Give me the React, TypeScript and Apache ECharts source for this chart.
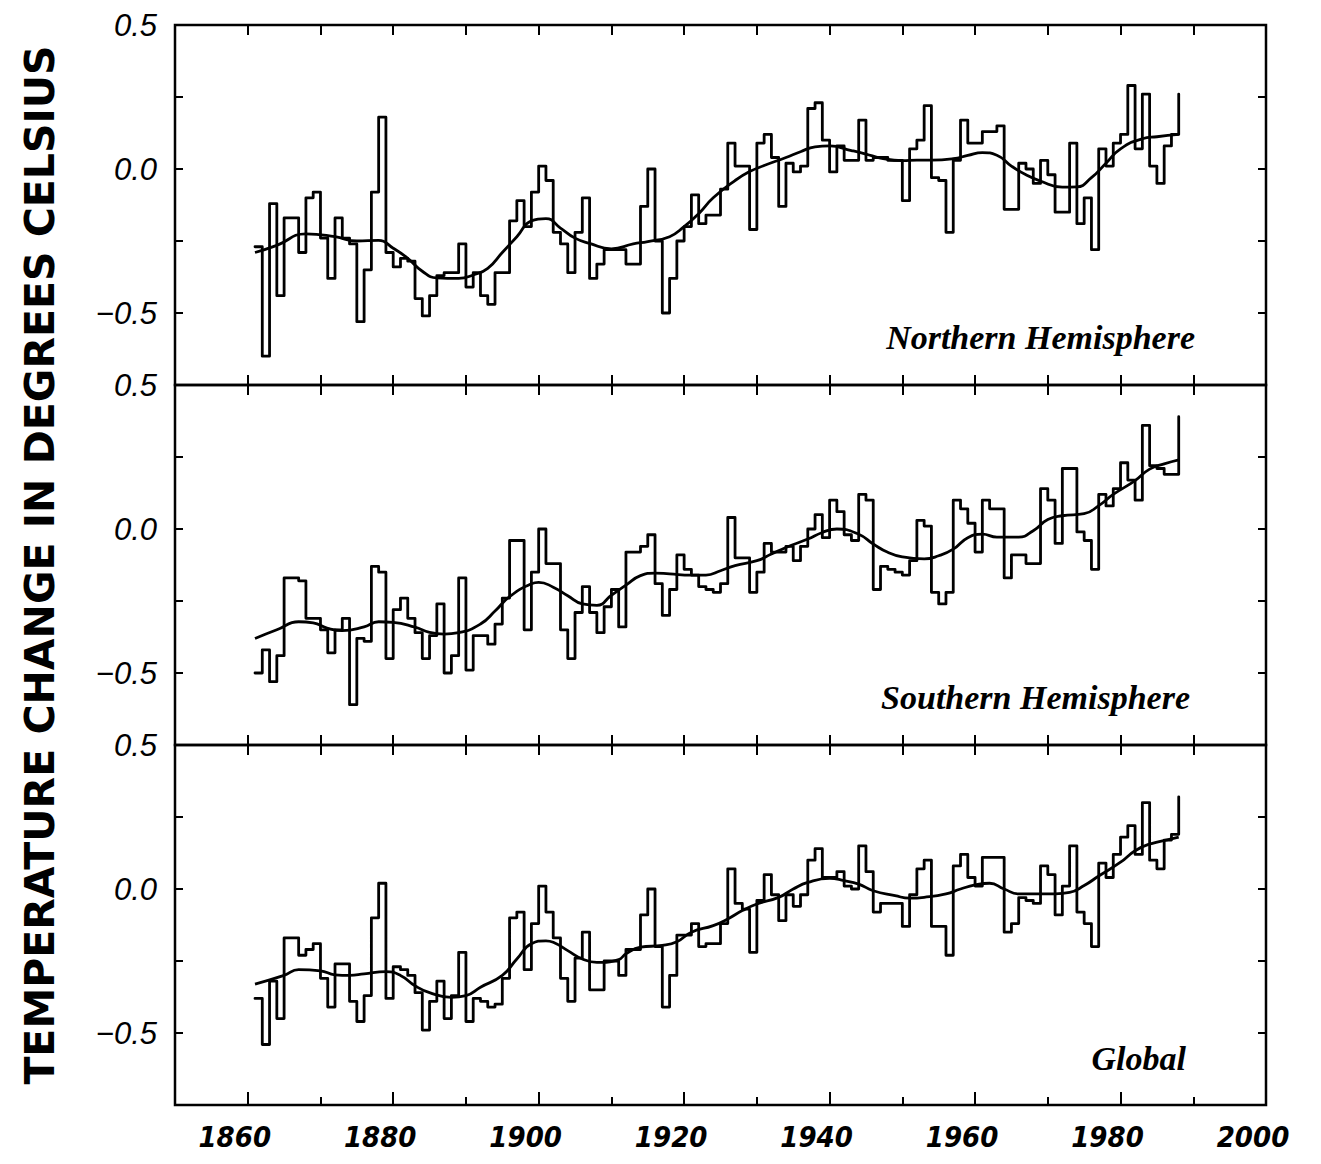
import React, { useEffect, useRef } from "react";
import * as echarts from "echarts";

// ---------- data ----------
const YEARS = Array.from({ length: 128 }, (_, i) => 1861 + i); // 1861 … 1988

const NORTH = [
  -0.27, -0.65, -0.12, -0.44, -0.17, -0.17, -0.29, -0.10, -0.08, -0.24,
  -0.38, -0.17, -0.24, -0.26, -0.53, -0.35, -0.08, 0.18, -0.29, -0.34,
  -0.31, -0.32, -0.45, -0.51, -0.44, -0.37, -0.36, -0.36, -0.26, -0.41,
  -0.36, -0.44, -0.47, -0.36, -0.36, -0.18, -0.11, -0.20, -0.08, 0.01,
  -0.04, -0.22, -0.26, -0.36, -0.22, -0.10, -0.38, -0.33, -0.28, -0.28,
  -0.28, -0.33, -0.33, -0.13, 0.00, -0.25, -0.50, -0.38, -0.25, -0.20,
  -0.09, -0.19, -0.16, -0.16, -0.07, 0.09, 0.01, 0.01, -0.21, 0.09,
  0.12, 0.04, -0.13, 0.02, -0.01, 0.01, 0.21, 0.23, 0.10, -0.01,
  0.08, 0.03, 0.03, 0.17, 0.03, 0.04, 0.04, 0.03, 0.03, -0.11,
  0.07, 0.10, 0.22, -0.03, -0.04, -0.22, 0.03, 0.17, 0.09, 0.09,
  0.13, 0.13, 0.15, -0.14, -0.14, 0.02, 0.00, -0.05, 0.03, -0.02,
  -0.15, -0.15, 0.09, -0.19, -0.10, -0.28, 0.07, 0.01, 0.09, 0.12,
  0.29, 0.07, 0.26, 0.01, -0.05, 0.08, 0.12, 0.26,
];

const SOUTH = [
  -0.50, -0.42, -0.53, -0.44, -0.17, -0.17, -0.18, -0.31, -0.31, -0.35,
  -0.43, -0.35, -0.31, -0.61, -0.38, -0.39, -0.13, -0.15, -0.45, -0.28,
  -0.24, -0.31, -0.36, -0.45, -0.37, -0.26, -0.50, -0.44, -0.17, -0.49,
  -0.37, -0.37, -0.40, -0.33, -0.24, -0.04, -0.04, -0.35, -0.15, 0.00,
  -0.12, -0.12, -0.35, -0.45, -0.29, -0.20, -0.29, -0.36, -0.27, -0.21,
  -0.34, -0.08, -0.08, -0.06, -0.02, -0.19, -0.30, -0.21, -0.09, -0.14,
  -0.16, -0.20, -0.21, -0.22, -0.19, 0.04, -0.10, -0.10, -0.22, -0.15,
  -0.05, -0.08, -0.08, -0.06, -0.11, -0.06, 0.00, 0.05, -0.03, 0.10,
  0.06, -0.02, -0.04, 0.12, 0.10, -0.21, -0.13, -0.14, -0.15, -0.16,
  -0.11, 0.03, 0.01, -0.22, -0.26, -0.22, 0.10, 0.07, 0.02, -0.08,
  0.10, 0.07, 0.07, -0.17, -0.09, -0.09, -0.12, -0.12, 0.14, 0.10,
  -0.05, 0.21, 0.21, -0.01, -0.04, -0.14, 0.12, 0.08, 0.14, 0.23,
  0.17, 0.10, 0.36, 0.22, 0.21, 0.19, 0.19, 0.39,
];

const GLOBAL = [
  -0.38, -0.54, -0.32, -0.45, -0.17, -0.17, -0.23, -0.21, -0.19, -0.31,
  -0.41, -0.26, -0.26, -0.39, -0.46, -0.37, -0.10, 0.02, -0.38, -0.27,
  -0.28, -0.30, -0.36, -0.49, -0.39, -0.32, -0.45, -0.37, -0.22, -0.46,
  -0.38, -0.39, -0.41, -0.40, -0.31, -0.10, -0.08, -0.28, -0.12, 0.01,
  -0.08, -0.17, -0.31, -0.39, -0.24, -0.15, -0.35, -0.35, -0.25, -0.25,
  -0.30, -0.21, -0.21, -0.09, 0.00, -0.20, -0.41, -0.30, -0.16, -0.16,
  -0.12, -0.20, -0.19, -0.19, -0.12, 0.07, -0.05, -0.07, -0.22, -0.04,
  0.05, -0.02, -0.11, -0.02, -0.06, -0.02, 0.10, 0.14, 0.04, 0.04,
  0.06, 0.01, 0.00, 0.15, 0.06, -0.08, -0.05, -0.05, -0.05, -0.13,
  -0.02, 0.07, 0.10, -0.13, -0.13, -0.23, 0.08, 0.12, 0.04, 0.01,
  0.11, 0.11, 0.11, -0.15, -0.12, -0.03, -0.04, -0.05, 0.08, 0.05,
  -0.09, 0.01, 0.15, -0.08, -0.12, -0.20, 0.09, 0.04, 0.12, 0.18,
  0.22, 0.12, 0.30, 0.10, 0.07, 0.17, 0.19, 0.32,
];

// smoothed curves (years and values)
const NORTH_SMOOTH_YEARS = [
  1861, 1864, 1868, 1872, 1875, 1878, 1880, 1882, 1884, 1886, 1889, 1891, 1893, 1895,
  1897, 1899, 1901, 1903, 1905, 1907, 1910, 1913, 1915, 1918, 1920, 1922, 1924, 1927,
  1929, 1931, 1934, 1936, 1938, 1940, 1943, 1945, 1947, 1950, 1952, 1954, 1957, 1959,
  1961, 1963, 1965, 1967, 1969, 1972, 1974, 1976, 1978, 1980, 1983, 1985, 1988,
];
const NORTH_SMOOTH = [
  -0.29, -0.265, -0.225, -0.235, -0.25, -0.248, -0.275, -0.31, -0.355, -0.378, -0.38, -0.368, -0.345, -0.29,
  -0.235, -0.18, -0.172, -0.205, -0.24, -0.258, -0.277, -0.26, -0.252, -0.235, -0.2, -0.155, -0.1, -0.04,
  -0.009, 0.012, 0.04, 0.06, 0.077, 0.08, 0.064, 0.052, 0.038, 0.029, 0.031, 0.031, 0.036, 0.047,
  0.057, 0.048, 0.01, -0.02, -0.042, -0.063, -0.062, -0.03, 0.02, 0.07, 0.105, 0.112, 0.12,
];

const SOUTH_SMOOTH_YEARS = [
  1861, 1864, 1867, 1869, 1871, 1873, 1876, 1878, 1880, 1883, 1885, 1887, 1889, 1892,
  1894, 1896, 1899, 1900, 1902, 1904, 1906, 1908, 1910, 1912, 1914, 1916, 1918, 1921,
  1923, 1925, 1927, 1930, 1932, 1934, 1937, 1939, 1941, 1944, 1946, 1948, 1950, 1953,
  1955, 1957, 1959, 1961, 1963, 1966, 1968, 1970, 1972, 1975, 1977, 1979, 1982, 1984,
  1986, 1988,
];
const SOUTH_SMOOTH = [
  -0.38, -0.35, -0.322, -0.326, -0.345, -0.353, -0.34, -0.322, -0.324, -0.341, -0.359, -0.365, -0.36, -0.33,
  -0.285, -0.235, -0.19, -0.185, -0.202, -0.232, -0.26, -0.265, -0.23, -0.195, -0.162, -0.153, -0.156, -0.16,
  -0.16, -0.145, -0.127, -0.11, -0.087, -0.064, -0.035, -0.012, 0.0, -0.018, -0.052, -0.081, -0.097, -0.104,
  -0.093, -0.07, -0.03, -0.018, -0.028, -0.028, -0.006, 0.033, 0.046, 0.053, 0.081, 0.12, 0.168, 0.208,
  0.226, 0.24,
];

const GLOBAL_SMOOTH_YEARS = [
  1861, 1865, 1867, 1870, 1872, 1874, 1876, 1879, 1881, 1883, 1885, 1888, 1890, 1892,
  1895, 1897, 1899, 1901, 1902, 1904, 1906, 1908, 1911, 1912, 1914, 1917, 1919, 1921,
  1924, 1926, 1928, 1930, 1933, 1935, 1937, 1940, 1942, 1944, 1946, 1949, 1951, 1953,
  1956, 1958, 1960, 1962, 1964, 1966, 1968, 1971, 1973, 1975, 1977, 1980, 1982, 1984,
  1987, 1988,
];
const GLOBAL_SMOOTH = [
  -0.33, -0.3, -0.28, -0.284, -0.298, -0.3, -0.295, -0.287, -0.3, -0.336, -0.36, -0.376, -0.37, -0.341,
  -0.3, -0.243, -0.19, -0.18, -0.185, -0.214, -0.243, -0.255, -0.245, -0.225, -0.202, -0.196, -0.183, -0.15,
  -0.127, -0.104, -0.075, -0.052, -0.029, 0.0, 0.023, 0.037, 0.029, 0.017, -0.006, -0.023, -0.032, -0.029,
  -0.017, 0.0, 0.014, 0.02, 0.0, -0.017, -0.017, -0.017, -0.012, 0.012, 0.045, 0.093, 0.133, 0.156,
  0.174, 0.18,
];

const X_LABELS = [1860, 1880, 1900, 1920, 1940, 1960, 1980, 2000];
const DECADE_TICKS = [1860, 1870, 1880, 1890, 1900, 1910, 1920, 1930, 1940, 1950, 1960, 1970, 1980, 1990];
const MAJOR_TICKS = [1860, 1880, 1900, 1920, 1940, 1960, 1980];
const Y_TICK_LABELS: Record<string, string> = { "0.5": "0.5", "0": "0.0", "-0.5": "\u22120.5" };
const PANEL_TITLES = ["Northern Hemisphere", "Southern Hemisphere", "Global"];
const Y_TITLE = "TEMPERATURE CHANGE IN DEGREES CELSIUS";

// ---------- layout ----------
const GRID_TOPS = [25, 385, 745];
const GRID_LEFT = 175;
const GRID_WIDTH = 1091;
const GRID_HEIGHT = 360;
const BLACK = "#000";

const pairs = (xs: number[], ys: number[]) => xs.map((x, i) => [x, ys[i]]);

function xAxisDef(gi: number, position: string, len: number, ticks: number[], labels: boolean) {
  return {
    type: "value",
    gridIndex: gi,
    position,
    min: 1850,
    max: 2000,
    interval: 10,
    axisLine: { show: false, onZero: false },
    splitLine: { show: false },
    axisTick: {
      show: true,
      inside: true,
      length: len,
      customValues: ticks,
      lineStyle: { color: BLACK, width: 2 },
    },
    axisLabel: labels
      ? {
          show: true,
          customValues: X_LABELS,
          formatter: (v: number) => (v % 20 === 0 && v >= 1860 ? String(v) : ""),
          color: BLACK,
          fontSize: 29,
          fontStyle: "italic",
          fontWeight: "bold",
          fontFamily: "'Liberation Sans Narrow', 'DejaVu Sans Condensed', 'Liberation Sans', sans-serif",
          margin: 17,
          padding: [0, 26, 0, 0],
        }
      : { show: false },
  };
}

function yAxisDef(gi: number, position: string, labels: boolean) {
  return {
    type: "value",
    gridIndex: gi,
    position,
    min: -0.75,
    max: 0.5,
    interval: 0.25,
    axisLine: { show: false, onZero: false },
    splitLine: { show: false },
    axisTick: { show: true, inside: true, length: 8, lineStyle: { color: BLACK, width: 2 } },
    axisLabel: labels
      ? {
          show: true,
          formatter: (v: number) => Y_TICK_LABELS[String(Math.round(v * 100) / 100)] ?? "",
          color: BLACK,
          fontSize: 31,
          fontStyle: "italic",
          fontFamily: "'Liberation Sans', Arial, sans-serif",
          margin: 18,
        }
      : { show: false },
  };
}

function buildOption() {
  const grid = GRID_TOPS.map((t) => ({
    left: GRID_LEFT,
    top: t,
    width: GRID_WIDTH,
    height: GRID_HEIGHT,
    show: true,
    borderColor: BLACK,
    borderWidth: 2.5,
    backgroundColor: "transparent",
    containLabel: false,
  }));

  const xAxis: any[] = [];
  const yAxis: any[] = [];
  GRID_TOPS.forEach((_, gi) => {
    const isLast = gi === GRID_TOPS.length - 1;
    xAxis.push(xAxisDef(gi, "bottom", isLast ? 8 : 10, DECADE_TICKS, isLast));
    xAxis.push(xAxisDef(gi, "top", 10, DECADE_TICKS, false));
    yAxis.push(yAxisDef(gi, "left", true));
    yAxis.push(yAxisDef(gi, "right", false));
  });
  // longer ticks every 20 years on the lowest axis
  xAxis.push(xAxisDef(2, "bottom", 13, MAJOR_TICKS, false));

  const annual = [NORTH, SOUTH, GLOBAL];
  const smoothYears = [NORTH_SMOOTH_YEARS, SOUTH_SMOOTH_YEARS, GLOBAL_SMOOTH_YEARS];
  const smoothVals = [NORTH_SMOOTH, SOUTH_SMOOTH, GLOBAL_SMOOTH];

  const series: any[] = [];
  annual.forEach((vals, gi) => {
    series.push({
      type: "line",
      xAxisIndex: gi * 2,
      yAxisIndex: gi * 2,
      data: pairs(YEARS, vals),
      step: "end",
      showSymbol: false,
      symbol: "none",
      lineStyle: { color: BLACK, width: 2.8, join: "round", cap: "round" },
      silent: true,
    });
    series.push({
      type: "line",
      xAxisIndex: gi * 2,
      yAxisIndex: gi * 2,
      data: pairs(smoothYears[gi], smoothVals[gi]),
      smooth: 0.5,
      showSymbol: false,
      symbol: "none",
      lineStyle: { color: BLACK, width: 2.8 },
      silent: true,
    });
  });

  const panelFont = "'Liberation Serif', 'DejaVu Serif', serif";
  const panelLabelPos = [
    { x: 1195, y: 337 },
    { x: 1190, y: 697 },
    { x: 1186, y: 1058 },
  ];

  const graphic: any[] = [
    {
      type: "text",
      x: 40,
      y: 565,
      rotation: Math.PI / 2,
      style: {
        text: Y_TITLE,
        fill: BLACK,
        fontSize: 41,
        fontWeight: "bold",
        fontFamily: "'DejaVu Sans', 'Liberation Sans', sans-serif",
        textAlign: "center",
        textVerticalAlign: "middle",
        verticalAlign: "middle",
      },
    },
    ...PANEL_TITLES.map((t, i) => ({
      type: "text",
      x: panelLabelPos[i].x,
      y: panelLabelPos[i].y,
      style: {
        text: t,
        fill: BLACK,
        fontSize: 34,
        fontWeight: "bold",
        fontStyle: "italic",
        fontFamily: panelFont,
        textAlign: "right",
        textVerticalAlign: "middle",
        verticalAlign: "middle",
      },
    })),
  ];

  return {
    animation: false,
    backgroundColor: "#fff",
    grid,
    xAxis,
    yAxis,
    series,
    graphic,
  };
}

export default function App() {
  const ref = useRef<HTMLDivElement>(null);
  useEffect(() => {
    if (!ref.current) return;
    const chart = echarts.init(ref.current, undefined, { renderer: "svg" });
    chart.setOption(buildOption() as any);
    return () => chart.dispose();
  }, []);
  return (
    <div
      ref={ref}
      style={{ position: "absolute", left: 0, top: 0, width: 1321, height: 1164, background: "#fff" }}
    />
  );
}
